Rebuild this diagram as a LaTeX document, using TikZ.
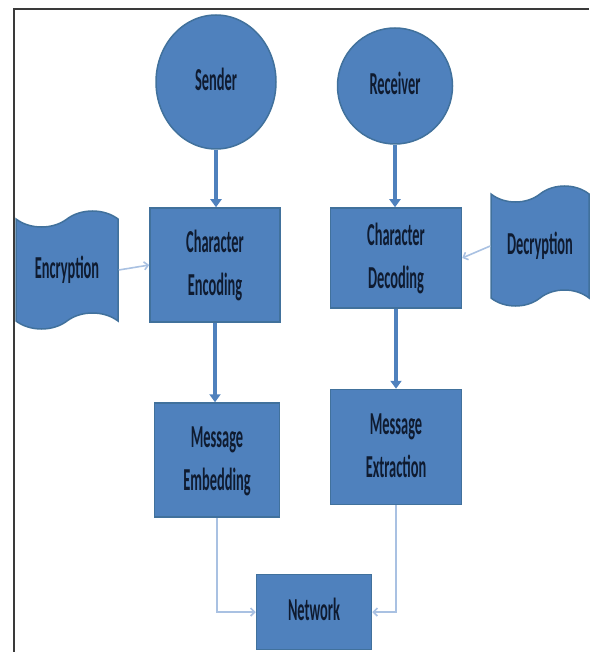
\documentclass[tikz,border=0pt]{standalone}
\usepackage{fontspec}
\setmainfont{Carlito}
\usepackage{graphicx}
\usetikzlibrary{shapes.geometric}
\usetikzlibrary{shapes.symbols}
\usetikzlibrary{arrows.meta}

\definecolor{boxblue}{HTML}{4F81BD}
\definecolor{boxedge}{HTML}{41719C}
\definecolor{linkblue}{HTML}{A9C1E2}
\definecolor{txtblue}{HTML}{0F1B30}
\definecolor{framegray}{HTML}{3A3A3A}

\newcommand{\squeeze}[1]{\scalebox{0.45}[1]{\begin{tabular}{@{}c@{}}#1\end{tabular}}}

\begin{document}
\begin{tikzpicture}[x=1pt,y=-1pt,
	blk/.style={draw=boxedge,fill=boxblue,line width=1.5pt,text=txtblue,
		font=\fontsize{32}{43}\selectfont\bfseries,inner sep=0pt},
	box/.style={blk,rectangle},
	oval/.style={blk,ellipse},
	card/.style={blk,tape,tape bend height=16pt},
	thickarr/.style={boxblue,line width=4pt,-{Triangle[width=11pt,length=8pt]}},
	thinarr/.style={linkblue,line width=1.6pt,-{Straight Barb[width=8pt,length=4pt]}}]
	
	\useasboundingbox (0,0) rectangle (589,652);
	% frame
	\draw[framegray,line width=2pt] (14,652) -- (14,9) -- (589,9);
	
	% sender side
	\node[oval,minimum width=120pt,minimum height=134pt] (sender) at (216,82) {\squeeze{Sender}};
	\node[box,minimum width=130pt,minimum height=114pt] (charenc) at (215,265) {\squeeze{Character\\Encoding}};
	\node[box,minimum width=125pt,minimum height=114pt] (msgemb) at (217,460) {\squeeze{Message\\Embedding}};
	\node[card,minimum width=102pt,minimum height=118pt] (encryption) at (67,270) {\squeeze{Encryption}};
	
	% receiver side
	\node[oval,minimum width=115pt,minimum height=116pt] (receiver) at (395,86) {\squeeze{Receiver}};
	\node[box,minimum width=131pt,minimum height=100pt] (chardec) at (396,258) {\squeeze{Character\\Decoding}};
	\node[box,minimum width=131pt,minimum height=115pt] (msgext) at (396,447) {\squeeze{Message\\Extraction}};
	\node[card,minimum width=98pt,minimum height=120pt] (decryption) at (540,246) {\squeeze{Decryption}};
	
	\node[box,minimum width=115pt,minimum height=75pt] (network) at (314,612) {\squeeze{Network}};
	
	\draw[thickarr] (sender.south) -- (sender.south |- charenc.north);
	\draw[thickarr] (charenc.south) -- (charenc.south |- msgemb.north);
	\draw[thickarr] (receiver.south) -- (receiver.south |- chardec.north);
	\draw[thickarr] (chardec.south) -- (chardec.south |- msgext.north);
	
	\draw[thinarr] (encryption.east) -- (charenc.west);
	\draw[thinarr] (decryption.west) -- (chardec.east);
	\draw[thinarr] (msgemb.south) |- (network.west);
	\draw[thinarr] (msgext.south) |- (network.east);

\end{tikzpicture}
\end{document}
